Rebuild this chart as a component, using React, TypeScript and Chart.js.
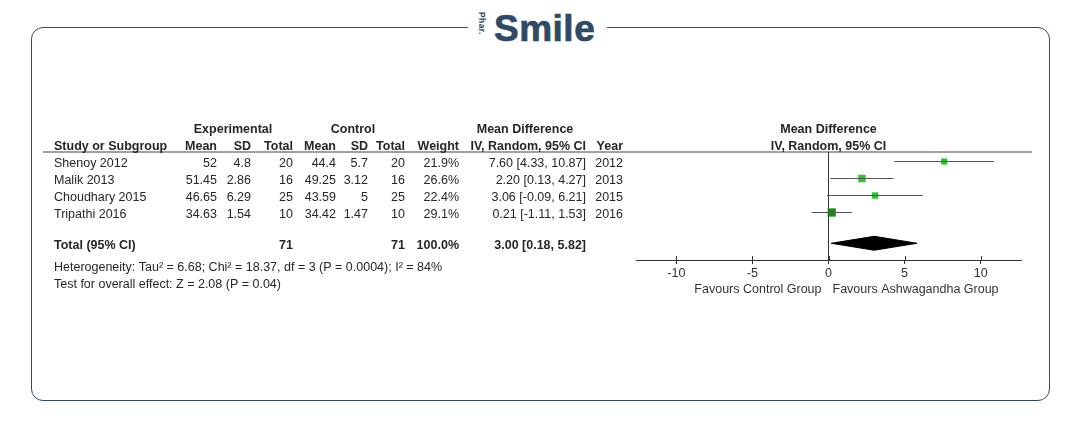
import React, { useEffect, useRef } from 'react';
import { Chart, registerables } from 'chart.js';

Chart.register(...registerables);

// ---- data ----
const studies = ['Shenoy 2012', 'Malik 2013', 'Choudhary 2015', 'Tripathi 2016'];
const expMean = [52, 51.45, 46.65, 34.63];
const expSD = [4.8, 2.86, 6.29, 1.54];
const expTotal = [20, 16, 25, 10];
const ctrlMean = [44.4, 49.25, 43.59, 34.42];
const ctrlSD = [5.7, 3.12, 5, 1.47];
const ctrlTotal = [20, 16, 25, 10];
const weights = [21.9, 26.6, 22.4, 29.1];
const meanDiff = [7.6, 2.2, 3.06, 0.21];
const ciLow = [4.33, 0.13, -0.09, -1.11];
const ciHigh = [10.87, 4.27, 6.21, 1.53];
const years = [2012, 2013, 2015, 2016];
const totalExp = 71;
const totalCtrl = 71;
const totalWeight = 100.0;
const totalMD = 3.0;
const totalLow = 0.18;
const totalHigh = 5.82;
const xTicks = [-10, -5, 0, 5, 10];
const heterogeneity = 'Heterogeneity: Tau² = 6.68; Chi² = 18.37, df = 3 (P = 0.0004); I² = 84%';
const overallEffect = 'Test for overall effect: Z = 2.08 (P = 0.04)';
const favoursLeft = 'Favours Control Group';
const favoursRight = 'Favours Ashwagandha Group';

// ---- layout / style ----
const FONT = '"Liberation Sans", Arial, Helvetica, sans-serif';
const FS = 12.5;
const TEXT = '#262626';
const TOTAL_ROW = 5.81;
const DIAMOND_HALF = 0.41;
const pointColors = ['#2cc42c', '#33c433', '#2cc42c', '#138c13'];

const COL = {
  study: 54,
  expMean: 217,
  expSD: 251,
  expTotal: 293,
  ctrlMean: 336,
  ctrlSD: 368,
  ctrlTotal: 405,
  weight: 459,
  ci: 586,
  year: 623,
};

const fmtCI = (m: number, l: number, h: number) =>
  `${m.toFixed(2)} [${l.toFixed(2)}, ${h.toFixed(2)}]`;

export default function App() {
  const ref = useRef<HTMLCanvasElement>(null);

  useEffect(() => {
    const canvas = ref.current;
    if (!canvas) return;

    const tablePlugin = {
      id: 'forestTable',
      afterDraw(chart: any) {
        const ctx = chart.ctx as CanvasRenderingContext2D;
        const xs = chart.scales.x;
        const ys = chart.scales.y;
        const area = chart.chartArea;
        const x0 = xs.getPixelForValue(0);
        ctx.save();

        const text = (s: string, x: number, y: number, align: CanvasTextAlign, bold = false) => {
          ctx.font = `${bold ? 'bold ' : ''}${FS}px ${FONT}`;
          ctx.fillStyle = TEXT;
          ctx.textAlign = align;
          ctx.textBaseline = 'middle';
          ctx.fillText(s, x, y);
        };

        // header underline
        ctx.strokeStyle = '#444';
        ctx.lineWidth = 1.2;
        ctx.beginPath();
        ctx.moveTo(43, area.top);
        ctx.lineTo(1032, area.top);
        ctx.stroke();

        // group headers
        const gy = area.top - 22;
        const hy = area.top - 5.5;
        text('Experimental', 233, gy, 'center', true);
        text('Control', 353, gy, 'center', true);
        text('Mean Difference', 525, gy, 'center', true);
        text('Mean Difference', x0, gy, 'center', true);

        text('Study or Subgroup', COL.study, hy, 'left', true);
        text('Mean', COL.expMean, hy, 'right', true);
        text('SD', COL.expSD, hy, 'right', true);
        text('Total', COL.expTotal, hy, 'right', true);
        text('Mean', COL.ctrlMean, hy, 'right', true);
        text('SD', COL.ctrlSD, hy, 'right', true);
        text('Total', COL.ctrlTotal, hy, 'right', true);
        text('Weight', COL.weight, hy, 'right', true);
        text('IV, Random, 95% CI', COL.ci, hy, 'right', true);
        text('Year', COL.year, hy, 'right', true);
        text('IV, Random, 95% CI', x0, hy, 'center', true);

        // study rows
        studies.forEach((s, i) => {
          const y = ys.getPixelForValue(i + 1) + 2.5;
          text(s, COL.study, y, 'left');
          text(String(expMean[i]), COL.expMean, y, 'right');
          text(String(expSD[i]), COL.expSD, y, 'right');
          text(String(expTotal[i]), COL.expTotal, y, 'right');
          text(String(ctrlMean[i]), COL.ctrlMean, y, 'right');
          text(String(ctrlSD[i]), COL.ctrlSD, y, 'right');
          text(String(ctrlTotal[i]), COL.ctrlTotal, y, 'right');
          text(`${weights[i].toFixed(1)}%`, COL.weight, y, 'right');
          text(fmtCI(meanDiff[i], ciLow[i], ciHigh[i]), COL.ci, y, 'right');
          text(String(years[i]), COL.year, y, 'right');
        });

        // total row
        const ty = ys.getPixelForValue(TOTAL_ROW) + 2.5;
        text('Total (95% CI)', COL.study, ty, 'left', true);
        text(String(totalExp), COL.expTotal, ty, 'right', true);
        text(String(totalCtrl), COL.ctrlTotal, ty, 'right', true);
        text(`${totalWeight.toFixed(1)}%`, COL.weight, ty, 'right', true);
        text(fmtCI(totalMD, totalLow, totalHigh), COL.ci, ty, 'right', true);

        text(heterogeneity, COL.study, ty + 21.5, 'left');
        text(overallEffect, COL.study, ty + 38.5, 'left');

        // upper half of axis tick marks
        ctx.strokeStyle = '#333';
        ctx.lineWidth = 1;
        xTicks.forEach((v) => {
          const px = Math.round(xs.getPixelForValue(v)) + 0.5;
          ctx.beginPath();
          ctx.moveTo(px, area.bottom - 4);
          ctx.lineTo(px, area.bottom);
          ctx.stroke();
        });

        // favours labels
        const fy = area.bottom + 29.5;
        ctx.font = `${FS}px ${FONT}`;
        ctx.fillStyle = '#333';
        ctx.textBaseline = 'middle';
        ctx.textAlign = 'right';
        ctx.fillText(favoursLeft, x0 - 7, fy);
        ctx.textAlign = 'left';
        ctx.fillText(favoursRight, x0 + 4, fy);

        ctx.restore();
      },
    };

    const ciDatasets = studies.map((_, i) => ({
      type: 'line' as const,
      data: [
        { x: ciLow[i], y: i + 1 },
        { x: ciHigh[i], y: i + 1 },
      ],
      borderColor: '#555',
      borderWidth: 1,
      pointRadius: 0,
      fill: false,
    }));

    const chart = new Chart(canvas, {
      type: 'scatter',
      data: {
        datasets: [
          ...ciDatasets,
          {
            type: 'scatter' as const,
            data: meanDiff.map((m, i) => ({ x: m, y: i + 1 })),
            pointStyle: 'rect',
            pointRadius: weights.map((w) => w / 5),
            backgroundColor: pointColors,
            borderColor: pointColors,
            borderWidth: 0,
          },
          {
            type: 'line' as const,
            data: [
              { x: totalLow, y: TOTAL_ROW },
              { x: totalMD, y: TOTAL_ROW - DIAMOND_HALF },
              { x: totalHigh, y: TOTAL_ROW },
              { x: totalMD, y: TOTAL_ROW + DIAMOND_HALF },
              { x: totalLow, y: TOTAL_ROW },
            ],
            borderColor: '#000',
            backgroundColor: '#000',
            borderWidth: 1,
            pointRadius: 0,
            tension: 0,
            fill: 'shape',
          },
        ] as any,
      },
      options: {
        animation: false,
        responsive: false,
        events: [],
        layout: { padding: { left: 636, right: 59, top: 152, bottom: 148 } },
        plugins: {
          legend: { display: false },
          tooltip: { enabled: false },
        },
        scales: {
          x: {
            type: 'linear',
            min: -12.65,
            max: 12.65,
            afterBuildTicks: (s: any) => {
              s.ticks = xTicks.map((v) => ({ value: v }));
            },
            afterFit: (s: any) => {
              s.height = 20;
            },
            ticks: {
              font: { family: FONT, size: FS },
              color: '#333',
              padding: 2,
              maxRotation: 0,
              autoSkip: false,
            },
            grid: {
              color: (c: any) => (c.tick && c.tick.value === 0 ? '#333' : 'rgba(0,0,0,0)'),
              lineWidth: 1,
              drawTicks: true,
              tickLength: 4,
              tickColor: '#333',
            },
            border: { display: true, color: '#333', width: 1 },
          },
          y: {
            type: 'linear',
            display: false,
            reverse: true,
            min: 0.441,
            max: 6.794,
          },
        },
      } as any,
      plugins: [tablePlugin],
    });

    return () => chart.destroy();
  }, []);

  const navy = '#2e4a66';

  return (
    <div
      style={{
        position: 'fixed',
        left: 0,
        top: 0,
        width: 1080,
        height: 428,
        background: '#fff',
        overflow: 'hidden',
      }}
    >
      <div
        style={{
          position: 'absolute',
          left: 31,
          top: 27,
          width: 1019,
          height: 374,
          boxSizing: 'border-box',
          border: `1.5px solid ${navy}`,
          borderRadius: 12,
        }}
      />
      <div
        style={{
          position: 'absolute',
          left: 468,
          top: 8,
          width: 139,
          height: 40,
          background: '#fff',
          color: navy,
          fontFamily: FONT,
        }}
      >
        <span
          style={{
            position: 'absolute',
            left: 9,
            top: 4,
            writingMode: 'vertical-rl',
            fontSize: 8.5,
            fontWeight: 700,
            lineHeight: 1,
            letterSpacing: 0.4,
          }}
        >
          Phar.
        </span>
        <span
          style={{
            position: 'absolute',
            left: 26,
            top: 2,
            fontSize: 37,
            fontWeight: 700,
            lineHeight: 1,
            letterSpacing: 0.5,
            WebkitTextStroke: `0.7px ${navy}`,
          }}
        >
          Smile
        </span>
      </div>
      <canvas
        ref={ref}
        width={1080}
        height={428}
        style={{ position: 'absolute', left: 0, top: 0, width: 1080, height: 428 }}
      />
    </div>
  );
}
